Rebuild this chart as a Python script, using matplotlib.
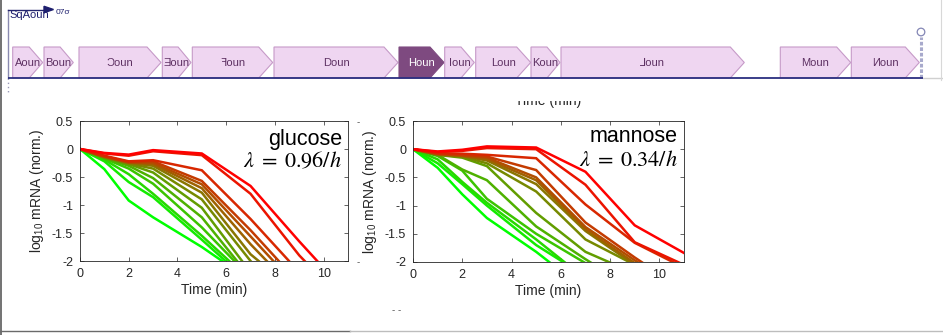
import matplotlib
matplotlib.use("Agg")
import matplotlib.pyplot as plt
from matplotlib.patches import Polygon, Circle, Rectangle

plt.rcParams['font.family'] = ['Liberation Sans', 'DejaVu Sans']
plt.rcParams['axes.unicode_minus'] = False

# ---------------- gene map (mirrored labels as in the picture) ----------------
gene_names = ["Aoun", "Boun", "Ɔoun", "Ǝoun", "ꟻoun", "Doun", "Houn",
              "Ioun", "Loun", "Koun", "⅃oun", "Moun", "Иoun"]
gene_start = [12.7, 44.0, 79.0, 162.3, 192.3, 274.0, 399.0,
              444.7, 475.7, 531.0, 561.0, 780.3, 851.3]
gene_end = [42.7, 73.3, 161.0, 191.0, 272.7, 398.0, 444.0,
            474.3, 530.7, 560.0, 744.3, 850.7, 919.3]
highlight_gene = "Houn"
promoter_label = "SqAoun"
sigma_label = "07σ"
promoter_pos = 8.3
terminator_pos = 921.0
map_start, map_end = 8.0, 923.0

# ---------------- decay curves ----------------
times = [0, 1, 2, 3, 5, 7, 9, 11]
# ordered from green (fast) to red (slow)
glucose = [
    [0, -0.36, -0.92, -1.22, -1.75, -2.35, -2.90, -3.40],
    [0, -0.22, -0.59, -0.86, -1.62, -2.40, -3.00, -3.50],
    [0, -0.19, -0.45, -0.80, -1.55, -2.35, -3.00, -3.50],
    [0, -0.17, -0.35, -0.62, -1.40, -2.30, -3.00, -3.50],
    [0, -0.16, -0.30, -0.52, -1.22, -2.30, -3.00, -3.50],
    [0, -0.15, -0.27, -0.42, -1.05, -2.20, -3.00, -3.50],
    [0, -0.15, -0.26, -0.35, -0.90, -2.00, -2.90, -3.50],
    [0, -0.14, -0.25, -0.30, -0.78, -1.88, -2.60, -3.40],
    [0, -0.14, -0.24, -0.27, -0.70, -1.70, -2.60, -3.40],
    [0, -0.13, -0.24, -0.25, -0.63, -1.56, -2.50, -3.30],
    [0, -0.13, -0.23, -0.22, -0.57, -1.45, -2.40, -3.20],
    [0, -0.12, -0.22, -0.20, -0.38, -1.25, -2.20, -3.00],
    [0, -0.08, -0.12, -0.04, -0.11, -0.80, -1.90, -2.80],
    [0, -0.07, -0.10, -0.02, -0.08, -0.66, -1.65, -2.60],
]
mannose = [
    [0, -0.33, -0.80, -1.22, -1.82, -2.50, -3.00, -3.50],
    [0, -0.25, -0.62, -1.00, -1.70, -2.25, -3.00, -3.50],
    [0, -0.18, -0.58, -0.95, -1.60, -2.30, -3.00, -3.50],
    [0, -0.12, -0.38, -0.88, -1.50, -2.02, -2.80, -3.40],
    [0, -0.10, -0.36, -0.55, -1.37, -1.95, -2.50, -3.20],
    [0, -0.10, -0.15, -0.30, -1.13, -1.82, -2.20, -3.00],
    [0, -0.10, -0.13, -0.25, -0.75, -1.60, -2.05, -2.80],
    [0, -0.09, -0.12, -0.20, -0.62, -1.45, -2.05, -2.80],
    [0, -0.09, -0.12, -0.18, -0.55, -1.42, -2.02, -2.70],
    [0, -0.08, -0.11, -0.15, -0.50, -1.38, -1.97, -2.50],
    [0, -0.08, -0.10, -0.13, -0.37, -1.30, -1.92, -2.50],
    [0, -0.07, -0.08, -0.10, -0.16, -0.98, -1.66, -2.10],
    [0, -0.05, -0.03, 0.02, 0.00, -0.63, -1.65, -2.05],
    [0, -0.04, -0.01, 0.05, 0.03, -0.40, -1.35, -1.84],
]
panel_titles = ["glucose", "mannose"]
panel_rates = [r"$\lambda\;=\;0.96/h$", r"$\lambda\;=\;0.34/h$"]
x_ticks = [0, 2, 4, 6, 8, 10]
y_ticks = [0.5, 0, -0.5, -1, -1.5, -2]
y_tick_labels = ["0.5", "0", "-0.5", "-1", "-1.5", "-2"]
x_label = "Time (min)"
y_label = r"log$_{\mathregular{10}}$ mRNA (norm.)"

W, H = 943, 335
fig = plt.figure(figsize=(W / 100, H / 100), dpi=100)

# overlay in pixel coordinates
ov = fig.add_axes([0, 0, 1, 1])
ov.set_xlim(0, W)
ov.set_ylim(H, 0)
ov.axis('off')

top, bot, mid = 47.0, 78.0, 62.5
for name, s, e in zip(gene_names, gene_start, gene_end):
    h = min(14.0, (e - s) * 0.45)
    hl = name == highlight_gene
    fc = '#7E4A80' if hl else '#EFD6F1'
    ec = '#7E4A80' if hl else '#C69AC8'
    poly = Polygon([(s, top), (e - h, top), (e, mid), (e - h, bot), (s, bot)],
                   closed=True, facecolor=fc, edgecolor=ec, lw=0.8, zorder=2)
    ov.add_patch(poly)
    ov.text((s + e) / 2, mid + 0.5, name, ha='center', va='center', fontsize=8,
            color='white' if hl else '#5E3163', zorder=3)

# backbone
ov.plot([map_start, map_end], [bot, bot], color='#2B2F80', lw=1.3, zorder=4, solid_capstyle='butt')
ov.plot([map_end, W], [bot, bot], color='#D0D0D0', lw=1.0, zorder=1)
# promoter
ov.plot([promoter_pos, promoter_pos], [bot, 9.5], color='#8A8AB0', lw=1.0, zorder=3)
ov.plot([promoter_pos, promoter_pos], [bot, 92], color='#9A9AB8', lw=1.0, ls=(0, (1, 2)), zorder=3)
ov.plot([promoter_pos, 44], [9.5, 9.5], color='#24256E', lw=1.0, zorder=3)
ov.add_patch(Polygon([(44, 6.3), (53.5, 9.5), (44, 12.7)], closed=True,
                     facecolor='#1E1F6E', edgecolor='#1E1F6E', zorder=3))
ov.text(9.5, 15.5, promoter_label, ha='left', va='center', fontsize=8, color='#1E1F6E')
ov.text(56, 12.0, sigma_label, ha='left', va='center', fontsize=6, color='#1E1F6E')
# terminator
ov.plot([terminator_pos, terminator_pos], [bot, 36.5], color='#A8AACC', lw=2.2,
        ls=(0, (1.2, 0.6)), zorder=3)
ov.add_patch(Circle((terminator_pos, 32), 3.8, facecolor='white', edgecolor='#8487B5',
                    lw=0.9, zorder=4))

# borders / fragments
ov.plot([0.7, 0.7], [0, H], color='#5A5A5A', lw=1.2)
ov.plot([0, 350], [331, 331], color='#6A6A6A', lw=1.0)
ov.plot([350, W], [331, 331], color='#BDBDBD', lw=1.0)
ov.plot([940.5, 940.5], [0, 80], color='#D8D8D8', lw=0.8)
ov.text(358, 122, "-", ha='center', va='center', fontsize=7, color='#555555')
ov.text(358, 262, "-", ha='center', va='center', fontsize=7, color='#555555')
ov.text(397, 310, "- -", ha='center', va='center', fontsize=7, color='#555555')
ov.text(548, 101.5, x_label, ha='center', va='center', fontsize=10, color='#262626', zorder=3)
ov.add_patch(Rectangle((470, 85), 160, 16.0, facecolor='white', edgecolor='none', zorder=4))

# ---------------- decay panels ----------------
def make_ax(x0, x1, y0, y1):
    return fig.add_axes([x0 / W, 1 - y1 / H, (x1 - x0) / W, (y1 - y0) / H])

panels = [make_ax(80, 348, 121, 261), make_ax(413, 684, 121, 262)]
datasets = [glucose, mannose]
title_y = [0.829, 0.853]
rate_y = [0.671, 0.681]

for ax, data, title, rate, ty, ry in zip(panels, datasets, panel_titles, panel_rates, title_y, rate_y):
    n = len(data)
    for i, series in enumerate(data):
        f = i / (n - 1)
        ax.plot(times, series, color=(f, 1 - f, 0.0), lw=1.8, solid_joinstyle='miter')
    ax.set_xlim(0, 11)
    ax.set_ylim(-2, 0.5)
    ax.set_xticks(x_ticks)
    ax.set_xticklabels([str(t) for t in x_ticks])
    ax.set_yticks(y_ticks)
    ax.set_yticklabels(y_tick_labels)
    ax.tick_params(direction='in', length=3, width=0.5, top=True, right=True,
                   labelsize=9, colors='#262626', pad=5)
    for sp in ax.spines.values():
        sp.set_color('#262626')
        sp.set_linewidth(0.6)
    ax.set_xlabel(x_label, fontsize=10, color='#262626', labelpad=2)
    ax.set_ylabel(y_label, fontsize=10, color='#262626', labelpad=4)
    ax.text(0.977, ty, title, transform=ax.transAxes, ha='right', va='baseline',
            fontsize=15.5, color='black')
    ax.text(0.977, ry, rate, transform=ax.transAxes, ha='right', va='baseline',
            fontsize=16, color='black', math_fontfamily='stix')

fig.savefig("out.png", dpi=100)
